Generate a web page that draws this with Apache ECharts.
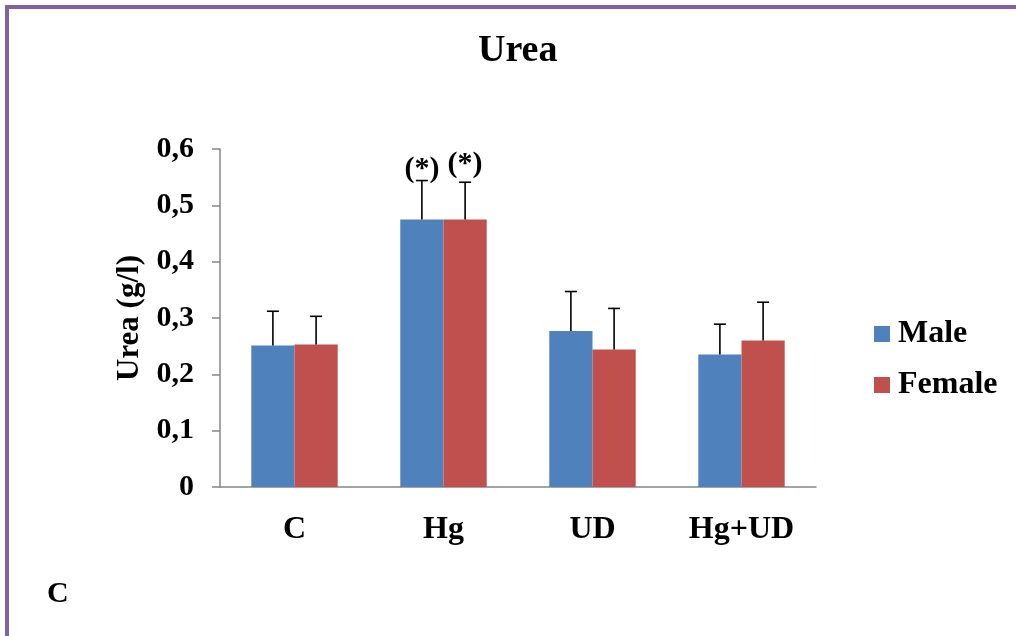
<!DOCTYPE html>
<html>
<head>
<meta charset="utf-8">
<script src="https://cdn.jsdelivr.net/npm/echarts@6/dist/echarts.min.js"></script>
<style>
html,body{margin:0;padding:0;background:#fff;}
#c{width:1016px;height:636px;}
</style>
</head>
<body>
<div id="c"></div>
<script>
const categories = ['C', 'Hg', 'UD', 'Hg+UD'];
const maleMean = [0.251, 0.475, 0.277, 0.235];
const maleErr = [0.061, 0.069, 0.070, 0.054];
const femaleMean = [0.253, 0.475, 0.244, 0.260];
const femaleErr = [0.050, 0.066, 0.073, 0.068];
const maleSig = ['', '(*)', '', ''];
const femaleSig = ['', '(*)', '', ''];
const yTicks = [0, 0.1, 0.2, 0.3, 0.4, 0.5, 0.6];

const FONT = '"Liberation Serif", "Times New Roman", serif';
const GAP = 0.42;

function errSeries(name, means, errs, sigs, side, sigDy) {
  return {
    type: 'custom',
    name: name + ' err',
    z: 5,
    silent: true,
    data: means.map((m, i) => [i, m, m + errs[i], sigs[i]]),
    renderItem: function (params, api) {
      const i = api.value(0);
      const base = api.coord([i, api.value(1)]);
      const top = api.coord([i, api.value(2)]);
      const band = api.size([1, 0])[0];
      const barW = band * (1 - GAP) / 2;
      const x = base[0] + side * barW / 2;
      const cap = 6;
      const children = [
        {type: 'line', shape: {x1: x, y1: base[1], x2: x, y2: top[1]}, style: {stroke: '#000', lineWidth: 1.6}},
        {type: 'line', shape: {x1: x - cap, y1: top[1], x2: x + cap, y2: top[1]}, style: {stroke: '#000', lineWidth: 1.6}}
      ];
      const s = sigs[i];
      if (s) {
        children.push({type: 'text', style: {text: s, x: x, y: top[1] + sigDy, align: 'center', verticalAlign: 'bottom', font: 'bold 30px ' + FONT, fill: '#000'}});
      }
      return {type: 'group', children: children};
    }
  };
}

const chart = echarts.init(document.getElementById('c'), null, {renderer: 'canvas'});
chart.setOption({
  animation: false,
  backgroundColor: '#fff',
  title: {
    text: 'Urea', left: 473, top: 27,
    textStyle: {fontFamily: FONT, fontWeight: 'bold', fontSize: 38, color: '#000'}
  },
  legend: {
    orient: 'vertical', left: 869, top: 313,
    itemWidth: 16, itemHeight: 16, itemGap: 19,
    icon: 'rect',
    data: ['Male', 'Female'],
    textStyle: {fontFamily: FONT, fontWeight: 'bold', fontSize: 32, color: '#000', padding: [0, 0, 0, 3]}
  },
  grid: {left: 220, right: 200, top: 149, bottom: 149},
  xAxis: {
    type: 'category', data: categories,
    axisLine: {lineStyle: {color: '#868686', width: 1.5}},
    axisTick: {show: false},
    axisLabel: {fontFamily: FONT, fontWeight: 'bold', fontSize: 32, color: '#000', margin: 27}
  },
  yAxis: {
    type: 'value', min: 0, max: 0.6, interval: 0.1,
    name: 'Urea (g/l)', nameLocation: 'middle', nameGap: 74, nameRotate: 90,
    nameTextStyle: {fontFamily: FONT, fontWeight: 'bold', fontSize: 31, color: '#000'},
    axisLine: {show: true, lineStyle: {color: '#868686', width: 1.5}},
    axisTick: {show: true, length: 8, lineStyle: {color: '#868686', width: 1.5}},
    splitLine: {show: false},
    axisLabel: {
      fontFamily: FONT, fontWeight: 'bold', fontSize: 30, color: '#000', margin: 26,
      formatter: v => {
        const t = yTicks.find(k => Math.abs(k - v) < 1e-9);
        return t === 0 ? '0' : String(+((t !== undefined ? t : v).toFixed(1))).replace('.', ',');
      }
    }
  },
  series: [
    {name: 'Male', type: 'bar', data: maleMean, barGap: '0%', barCategoryGap: (GAP * 100) + '%', itemStyle: {color: '#4F81BD'}},
    {name: 'Female', type: 'bar', data: femaleMean, itemStyle: {color: '#C0504D'}},
    errSeries('Male', maleMean, maleErr, maleSig, -1, 4),
    errSeries('Female', femaleMean, femaleErr, femaleSig, 1, -3)
  ],
  graphic: [
    {type: 'rect', shape: {x: 7, y: 7, width: 1200, height: 800}, style: {fill: 'none', stroke: '#8064A2', lineWidth: 4}, z: 100},
    {type: 'text', left: 47, top: 579, style: {text: 'C', font: 'bold 30px ' + FONT, fill: '#000'}}
  ]
});
</script>
</body>
</html>
